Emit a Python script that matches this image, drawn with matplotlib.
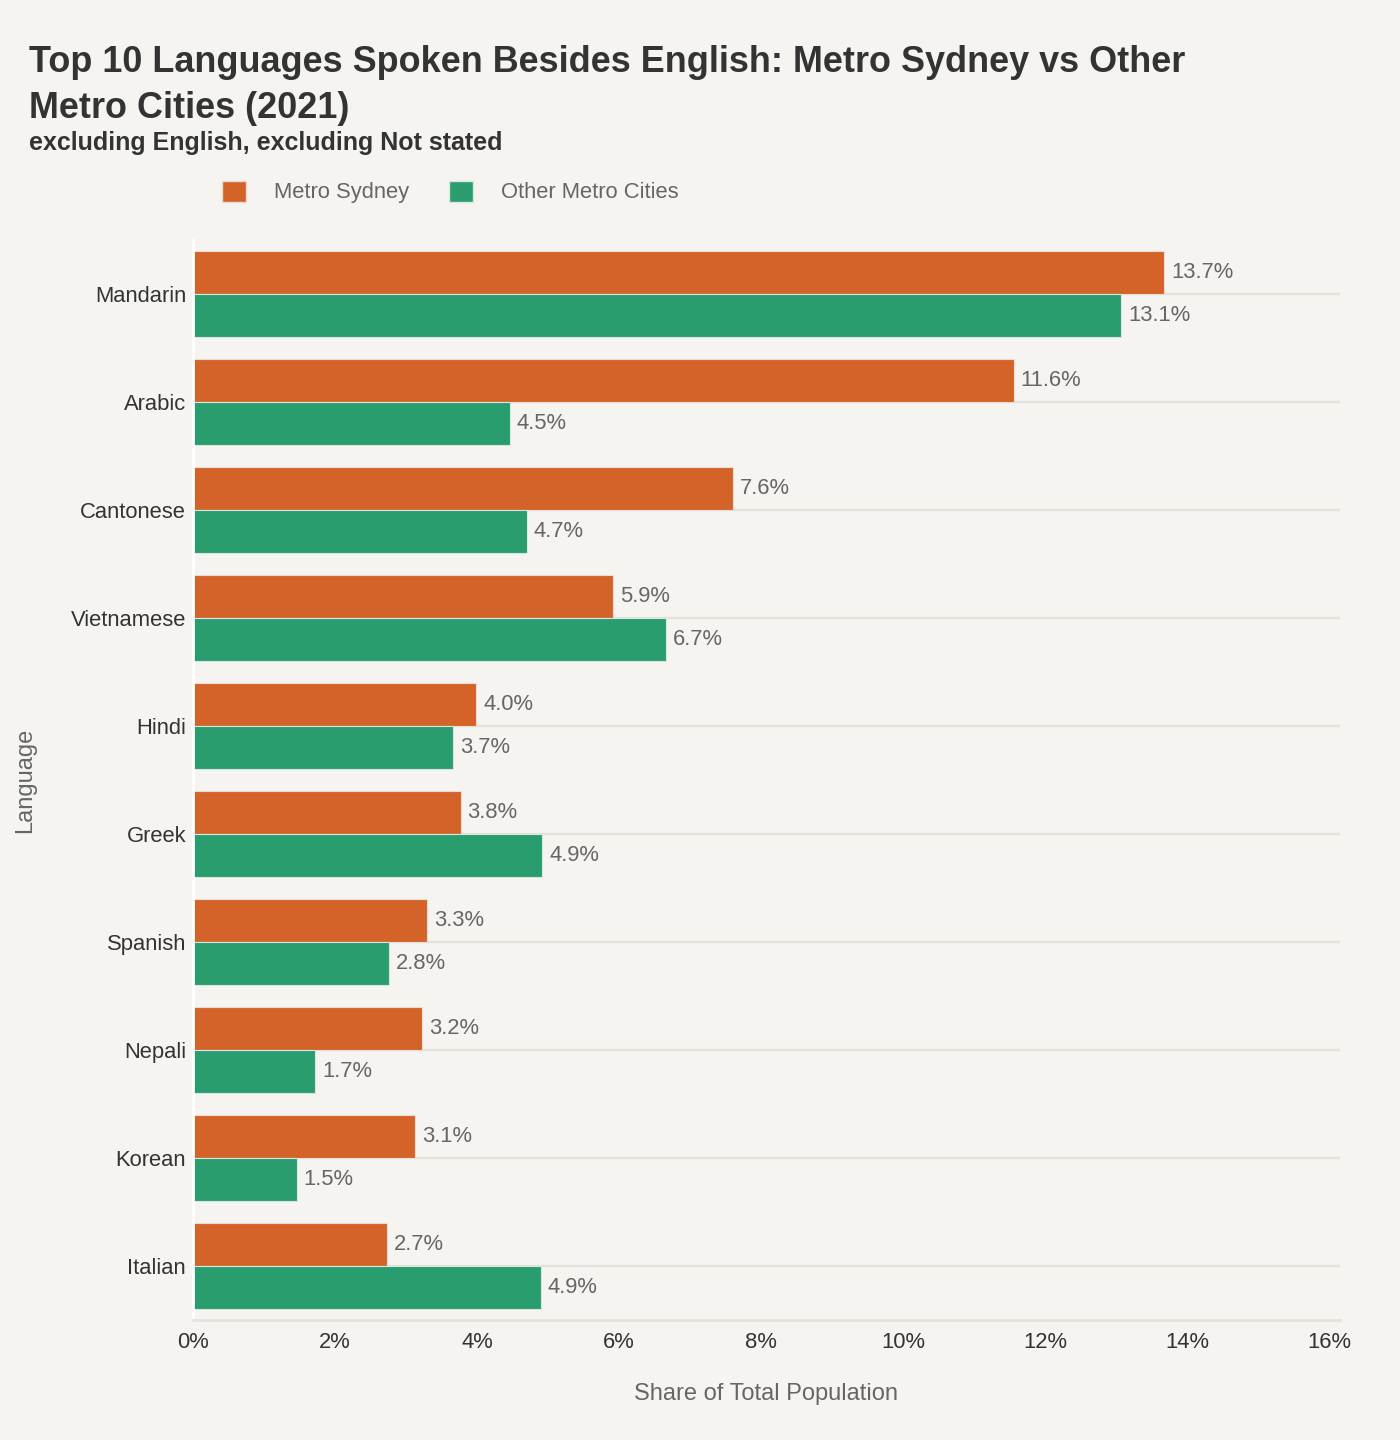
import matplotlib
matplotlib.use("Agg")
import matplotlib.pyplot as plt
import numpy as np
from matplotlib.patches import Patch

languages = ["Mandarin", "Arabic", "Cantonese", "Vietnamese", "Hindi",
             "Greek", "Spanish", "Nepali", "Korean", "Italian"]
sydney = [13.68, 11.56, 7.61, 5.92, 3.99, 3.77, 3.30, 3.23, 3.13, 2.73]
other = [13.07, 4.46, 4.70, 6.66, 3.66, 4.92, 2.76, 1.72, 1.46, 4.90]
xticks = [0, 2, 4, 6, 8, 10, 12, 14, 16]
series_names = ["Metro Sydney", "Other Metro Cities"]

BG = "#f5f4f0"
ORANGE = "#d4632a"
GREEN = "#2a9d6f"
GRID = "#e6e1dc"
FS = 15.8

plt.rcParams['font.family'] = ['Liberation Sans', 'DejaVu Sans']

W, H = 1400, 1440
fig = plt.figure(figsize=(W / 100, H / 100), dpi=100, facecolor=BG)
ax = fig.add_axes([193 / W, (H - 1320) / H, (1340 - 193) / W, 1080 / H])
ax.set_facecolor(BG)

y = np.arange(len(languages))
bh = 0.4
for yy in y:
    ax.axhline(yy, color=GRID, lw=1.6, zorder=0)

b1 = ax.barh(y - bh / 2, sydney, height=bh, color=ORANGE, edgecolor="#e8ddd4",
             linewidth=0.8, zorder=2)
b2 = ax.barh(y + bh / 2, other, height=bh, color=GREEN, edgecolor="#d8e8e0",
             linewidth=0.8, zorder=2)

for bars, vals in ((b1, sydney), (b2, other)):
    for bar, v in zip(bars, vals):
        ax.annotate(f"{v:.1f}%", (v, bar.get_y() + bar.get_height() / 2),
                    xytext=(5, 0), textcoords="offset points",
                    va="center", ha="left", fontsize=FS, color="#666666")

ax.set_xlim(0, 16.155)
ax.set_ylim(len(languages) - 0.5, -0.5)
ax.set_yticks(y)
ax.set_yticklabels(languages, fontsize=FS, color="#333333")
ax.set_xticks(xticks)
ax.set_xticklabels([f"{t}%" for t in xticks], fontsize=FS, color="#333333")
ax.tick_params(length=0, pad=5)
ax.tick_params(axis="x", pad=9)

for s in ["top", "right"]:
    ax.spines[s].set_visible(False)
ax.spines["left"].set_color("white")
ax.spines["left"].set_linewidth(2)
ax.spines["bottom"].set_color(GRID)
ax.spines["bottom"].set_linewidth(2)

ax.set_xlabel("Share of Total Population", fontsize=17, color="#666666", labelpad=21)
fig.text(25 / W, 1 - 780 / H, "Language", rotation=90, fontsize=17,
         color="#666666", ha="center", va="center")

fig.text(29 / W, 1 - 72 / H, "Top 10 Languages Spoken Besides English: Metro Sydney vs Other",
         fontsize=25.9, fontweight="bold", color="#333333", ha="left", va="baseline")
fig.text(29 / W, 1 - 118 / H, "Metro Cities (2021)",
         fontsize=25.9, fontweight="bold", color="#333333", ha="left", va="baseline")
fig.text(29 / W, 1 - 150 / H, "excluding English, excluding Not stated",
         fontsize=18, fontweight="bold", color="#333333", ha="left", va="baseline")

handles = [Patch(facecolor=ORANGE, edgecolor="#e8ddd4"),
           Patch(facecolor=GREEN, edgecolor="#d8e8e0")]
leg = fig.legend(handles, series_names, loc="center left",
                 bbox_to_anchor=(222 / W, 1 - 192 / H), ncol=2, frameon=False,
                 borderpad=0, borderaxespad=0,
                 fontsize=FS, handlelength=1.1, handleheight=1.1,
                 handletextpad=1.27, columnspacing=1.8, labelcolor="#666666")

fig.savefig("out.png", dpi=100, facecolor=BG)
